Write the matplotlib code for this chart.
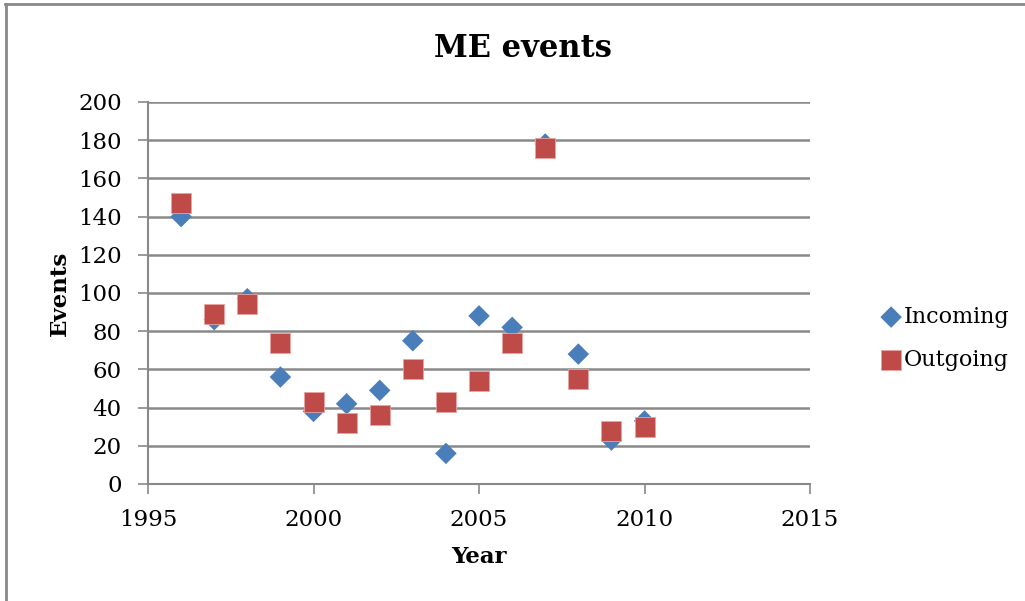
import matplotlib
matplotlib.use("Agg")
import matplotlib.pyplot as plt
from matplotlib.lines import Line2D

# yearly event counts
years = [1996, 1997, 1998, 1999, 2000, 2001, 2002, 2003,
         2004, 2005, 2006, 2007, 2008, 2009, 2010]
incoming = [140, 86, 97, 56, 38, 42, 49, 75, 16, 88, 82, 178, 68, 23, 33]
outgoing = [147, 89, 94, 74, 43, 32, 36, 60, 43, 54, 74, 176, 55, 28, 30]

y_ticks = list(range(0, 201, 20))
x_ticks = [1995, 2000, 2005, 2010, 2015]

plt.rcParams['font.family'] = ['DejaVu Serif']
grey = '#898989'

fig = plt.figure(figsize=(10.25, 6.01), dpi=100)
ax = fig.add_axes([0.1444, 0.1947, 0.6459, 0.6356])

ax.scatter(years, incoming, marker='D', s=120, color='#4a7ebb',
           edgecolors='none', label='Incoming', zorder=3)
ax.scatter(years, outgoing, marker='s', s=215, color='#be4b48',
           edgecolors='#e8a3a1', linewidths=0.6, label='Outgoing', zorder=4)

ax.set_xlim(1995, 2015)
ax.set_ylim(0, 200)
ax.set_xticks(x_ticks)
ax.set_yticks(y_ticks)
ax.grid(axis='y', color=grey, linewidth=1.8, zorder=0)
ax.set_axisbelow(True)

for side in ['top', 'right']:
    ax.spines[side].set_visible(False)
for side in ['left', 'bottom']:
    ax.spines[side].set_color(grey)
    ax.spines[side].set_linewidth(1.5)
ax.tick_params(direction='out', length=7, width=1.2, color=grey,
               labelsize=16.5)
ax.tick_params(axis='y', pad=12)
ax.tick_params(axis='x', pad=11)

fig.text(0.51, 0.920, 'ME events', fontsize=22, fontweight='bold',
         ha='center', va='center')
ax.set_xlabel('Year', fontsize=16.5, fontweight='bold', labelpad=11)
ax.set_ylabel('Events', fontsize=16.5, fontweight='bold', labelpad=5)

ax.legend(loc='center left', bbox_to_anchor=(0.839, 0.4368),
          bbox_transform=fig.transFigure, frameon=False,
          fontsize=16, handletextpad=0.05, labelspacing=0.95, handlelength=1.0)

# chart frame on the top and left edges
fig.add_artist(Line2D([0.005, 1.0], [0.993, 0.993], color=grey, linewidth=2,
                      transform=fig.transFigure))
fig.add_artist(Line2D([0.0055, 0.0055], [0.0, 0.993], color=grey, linewidth=2,
                      transform=fig.transFigure))

fig.savefig('out.png', dpi=100)
